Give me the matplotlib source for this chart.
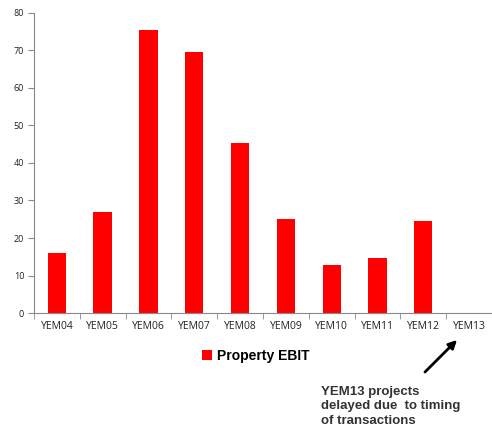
from matplotlib import pyplot as plt
from matplotlib.patches import Patch
import numpy as np

# Property EBIT by year
years = ['YEM04', 'YEM05', 'YEM06', 'YEM07', 'YEM08',
         'YEM09', 'YEM10', 'YEM11', 'YEM12', 'YEM13']
ebit = [15.9, 27.0, 75.5, 69.6, 45.4, 25.1, 12.8, 14.7, 24.4, 0]
y_ticks = [0, 10, 20, 30, 40, 50, 60, 70, 80]

fig = plt.figure(figsize=(4.92, 4.3), dpi=100)
ax = fig.add_axes([0.069, 0.272, 0.931, 0.698])

x = np.arange(len(years))
ax.bar(x, ebit, width=0.4, color='#ff0000')

ax.set_xlim(-0.5, len(years) - 0.5)
ax.set_ylim(0, 80)
ax.set_yticks(y_ticks)
ax.set_xticks(x)
ax.set_xticklabels(years, fontsize=7.5, family='Open Sans', color='#222222')
ax.tick_params(axis='x', length=0, pad=6)
ax.set_xticks(np.arange(len(years) + 1) - 0.5, minor=True)
ax.tick_params(axis='x', which='minor', length=4, color='#888888')
ax.tick_params(axis='y', labelsize=6.5, length=4, color='#888888', pad=3,
               labelcolor='#222222')
for lbl in ax.get_yticklabels():
    lbl.set_family('Open Sans')

for side in ['top', 'right']:
    ax.spines[side].set_visible(False)
for side in ['left', 'bottom']:
    ax.spines[side].set_color('#888888')

handle = Patch(facecolor='#ff0000', label='Property EBIT')
fig.legend(handles=[handle], loc='center', bbox_to_anchor=(0.52, 0.173),
           frameon=False, handlelength=0.75, handleheight=0.75, handletextpad=0.35,
           prop={'family': 'Liberation Sans', 'weight': 'bold', 'size': 10})

fig.text(0.652, 0.103, 'YEM13 projects\ndelayed due  to timing\nof transactions',
         fontsize=9.5, weight='bold', family='Liberation Sans', color='#333333',
         linespacing=1.3, va='top', ha='left')
ax.annotate('', xy=(459, 430 - 338), xycoords='figure pixels',
            xytext=(423, 430 - 374), textcoords='figure pixels',
            arrowprops=dict(arrowstyle='-|>', color='black', lw=2,
                            mutation_scale=12), annotation_clip=False)

plt.savefig('out.png', dpi=100)
